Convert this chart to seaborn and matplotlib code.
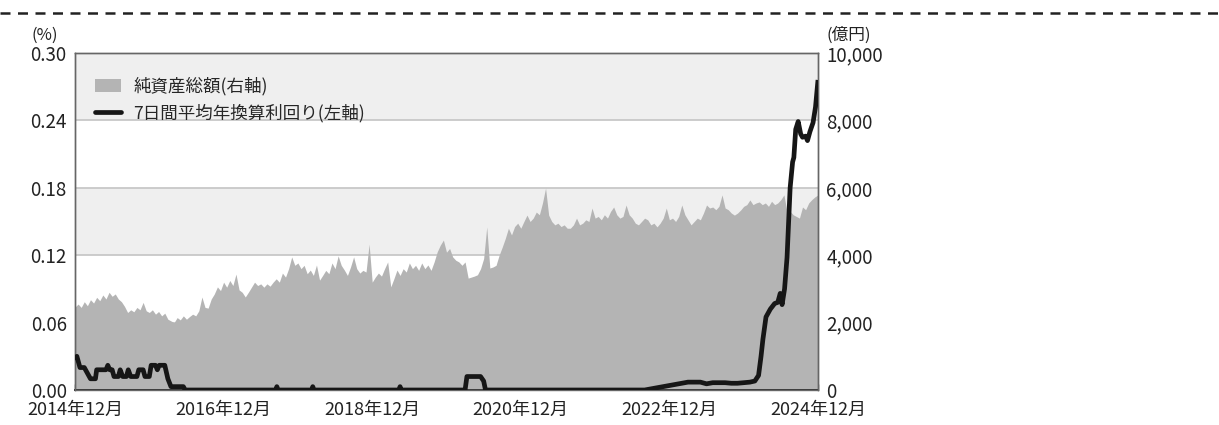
import numpy as np
import pandas as pd
import matplotlib
matplotlib.use("Agg")
import matplotlib.pyplot as plt
import seaborn as sns
from matplotlib.lines import Line2D
from matplotlib.patches import Patch

sns.set_theme(style="white")
plt.rcParams['font.family'] = ['Noto Sans CJK JP', 'DejaVu Sans']

# ---- data ----
# net assets (億円), semi-monthly from 2014/12 (month index 0) to 2024/12 (month 120)
assets = [
    2460, 2550, 2450, 2620, 2500, 2680, 2580, 2750, 2650, 2820, 2700, 2900,
    2780, 2850, 2700, 2620, 2480, 2300, 2380, 2320, 2450, 2380, 2600, 2350,
    2300, 2380, 2250, 2330, 2200, 2280, 2100, 2050, 2000, 2150, 2080, 2200,
    2100, 2180, 2250, 2200, 2350, 2760, 2450, 2430, 2700, 2850, 3060, 2950,
    3200, 3050, 3250, 3100, 3440, 2970, 2900, 2760, 2900, 3050, 3200, 3100,
    3150, 3050, 3150, 3080, 3200, 3300, 3200, 3470, 3350, 3600, 3950, 3700,
    3770, 3600, 3700, 3450, 3560, 3400, 3710, 3260, 3400, 3550, 3450, 3770,
    3600, 3980, 3700, 3560, 3400, 3650, 3950, 3600, 3470, 3550, 3500, 4330,
    3200, 3350, 3470, 3380, 3600, 3800, 3060, 3300, 3560, 3400, 3600, 3500,
    3770, 3600, 3700, 3550, 3770, 3600, 3710, 3550, 3800, 4100, 4300, 4450,
    4090, 4200, 3950, 3850, 3800, 3700, 3800, 3320, 3350, 3380, 3420, 3600,
    3900, 4840, 3620, 3650, 3700, 4000, 4240, 4500, 4800, 4600, 4850, 4950,
    4800, 5000, 5190, 5000, 5100, 5280, 5200, 5550, 5990, 5190, 5000, 4900,
    4950, 4850, 4900, 4800, 4800, 4900, 5100, 4900, 4950, 5050, 5000, 5400,
    5100, 5150, 5050, 5200, 5100, 5300, 5430, 5200, 5100, 5150, 5490, 5200,
    5100, 4950, 4900, 5000, 5100, 5050, 4900, 4950, 4840, 4950, 5100, 5400,
    5050, 5100, 5000, 5150, 5490, 5200, 5050, 4900, 5000, 5100, 5050, 5250,
    5490, 5400, 5430, 5350, 5450, 5790, 5400, 5350, 5250, 5190, 5250, 5340,
    5450, 5500, 5640, 5500, 5550, 5580, 5500, 5550, 5450, 5600, 5500, 5550,
    5650, 5790, 5280, 5300, 5200, 5150, 5100, 5430, 5350, 5550, 5650, 5730,
    5790,
]
asset_month = [i * 0.5 for i in range(len(assets))]

# 7-day average annualised yield (%), month index / value
yield_month = [0, 0.3, 0.8, 1.5, 2, 2.5, 3.3, 3.5, 5, 5.3, 5.6, 6, 6.3, 7, 7.3, 7.7,
               8.3, 8.6, 9, 10, 10.3, 11, 11.3, 12, 12.3, 13, 13.3, 13.6, 14.5, 15,
               15.5, 17.5, 17.8, 32.4, 32.6, 32.8, 38.2, 38.4, 38.6, 52.3, 52.5, 52.7,
               63.0, 63.3, 65.5, 66.0, 66.3, 92, 94, 96, 98, 99, 101, 102, 103, 105,
               106, 107, 108, 109, 109.8, 110.4, 110.8, 111.1, 111.6, 112.3, 113,
               113.5, 113.9, 114.2, 114.6, 115.0, 115.5, 115.9, 116.1, 116.4, 116.8,
               117.2, 117.5, 118.0, 118.3, 118.7, 119.2, 119.6, 120]
yield_pct = [0.027, 0.030, 0.020, 0.020, 0.015, 0.010, 0.010, 0.018, 0.018, 0.022, 0.018,
             0.018, 0.012, 0.012, 0.018, 0.012, 0.012, 0.018, 0.012, 0.012, 0.018, 0.018,
             0.012, 0.012, 0.022, 0.022, 0.018, 0.022, 0.022, 0.010, 0.003, 0.003, 0.0,
             0.0, 0.003, 0.0, 0.0, 0.003, 0.0, 0.0, 0.003, 0.0,
             0.0, 0.012, 0.012, 0.008, 0.0, 0.0, 0.002, 0.004, 0.006, 0.007, 0.007,
             0.0055, 0.0065, 0.0065, 0.006, 0.006, 0.0065, 0.007, 0.008, 0.013, 0.030,
             0.045, 0.065, 0.072, 0.077, 0.078, 0.086, 0.076, 0.090, 0.118, 0.180,
             0.203, 0.207, 0.232, 0.239, 0.228, 0.225, 0.226, 0.222, 0.230, 0.238,
             0.252, 0.276]

tick_months = [0, 24, 48, 72, 96, 120]
tick_labels = ["2014年12月", "2016年12月", "2018年12月", "2020年12月", "2022年12月", "2024年12月"]
left_ticks = [0.00, 0.06, 0.12, 0.18, 0.24, 0.30]
right_ticks = [0, 2000, 4000, 6000, 8000, 10000]

legend_assets = "純資産総額(右軸)"
legend_yield = "7日間平均年換算利回り(左軸)"

df_a = pd.DataFrame({"month": asset_month, "assets": assets})
df_y = pd.DataFrame({"month": yield_month, "yield": yield_pct})

# ---- figure ----
fig = plt.figure(figsize=(12.19, 4.25), dpi=100)
ax = fig.add_axes([75 / 1219, 1 - 390 / 425, 743 / 1219, 337 / 425])  # 億円 axis (right)
ax2 = ax.twinx()  # % axis (left)

band = "#efefef"
grid = "#c8c8c8"
for lo, hi in [(0, 2000), (4000, 6000), (8000, 10000)]:
    ax.axhspan(lo, hi, color=band, zorder=0, lw=0)
for v in right_ticks[1:-1]:
    ax.axhline(v, color=grid, lw=1.3, zorder=1)

ax.fill_between(df_a["month"], 0, df_a["assets"], color="#b4b4b4", lw=0, zorder=2)
sns.lineplot(data=df_y, x="month", y="yield", ax=ax2, color="#161616", lw=3.4,
             solid_capstyle="butt", zorder=5)

ax.set_xlim(0, 120)
ax.set_ylim(0, 10000)
ax2.set_ylim(0, 0.30)
ax.set_xlabel("")
ax.set_ylabel("")
ax2.set_xlabel("")
ax2.set_ylabel("")

ax.yaxis.tick_right()
ax2.yaxis.tick_left()
ax.set_yticks(right_ticks)
ax.set_yticklabels([f"{v:,}" for v in right_ticks])
ax2.set_yticks(left_ticks)
ax2.set_yticklabels([f"{v:.2f}" for v in left_ticks])
ax.set_xticks(tick_months)
ax.set_xticklabels(tick_labels)

fs = 13.5
ax.tick_params(axis="y", length=0, pad=6, labelsize=fs, colors="#222222", right=True, left=False,
               labelright=True, labelleft=False)
ax2.tick_params(axis="y", length=0, pad=6, labelsize=fs, colors="#222222", left=True, right=False,
                labelleft=True, labelright=False)
ax.tick_params(axis="x", direction="in", length=4, width=1, color="#333333", pad=8,
               labelsize=13, labelcolor="#222222", bottom=True)
ax2.tick_params(axis="x", bottom=False, labelbottom=False)

for a in (ax, ax2):
    for s in a.spines.values():
        s.set_visible(True)
        s.set_color("#666666")
        s.set_linewidth(1.0)
ax.spines["bottom"].set_color("#333333")
ax.spines["bottom"].set_linewidth(1.4)
ax2.patch.set_visible(False)

fig.text(58 / 1219, 1 - 35 / 425, "(%)", ha="right", va="center", fontsize=12, color="#222222")
fig.text(826 / 1219, 1 - 35 / 425, "(億円)", ha="left", va="center", fontsize=12, color="#222222")

handles = [Patch(facecolor="#b4b4b4", edgecolor="none"),
           Line2D([0], [0], color="#161616", lw=3.4)]
ax2.legend(handles, [legend_assets, legend_yield], loc="upper left",
           bbox_to_anchor=(0.01, 0.965), frameon=False, fontsize=12.6,
           handlelength=1.5, handleheight=0.8, handletextpad=0.7, labelspacing=0.45,
           borderaxespad=0.3)

fig.add_artist(Line2D([0, 1], [1 - 13 / 425, 1 - 13 / 425], transform=fig.transFigure,
                      color="#222222", lw=1.8, linestyle=(0, (4, 3))))

fig.savefig("out.png", dpi=100)
